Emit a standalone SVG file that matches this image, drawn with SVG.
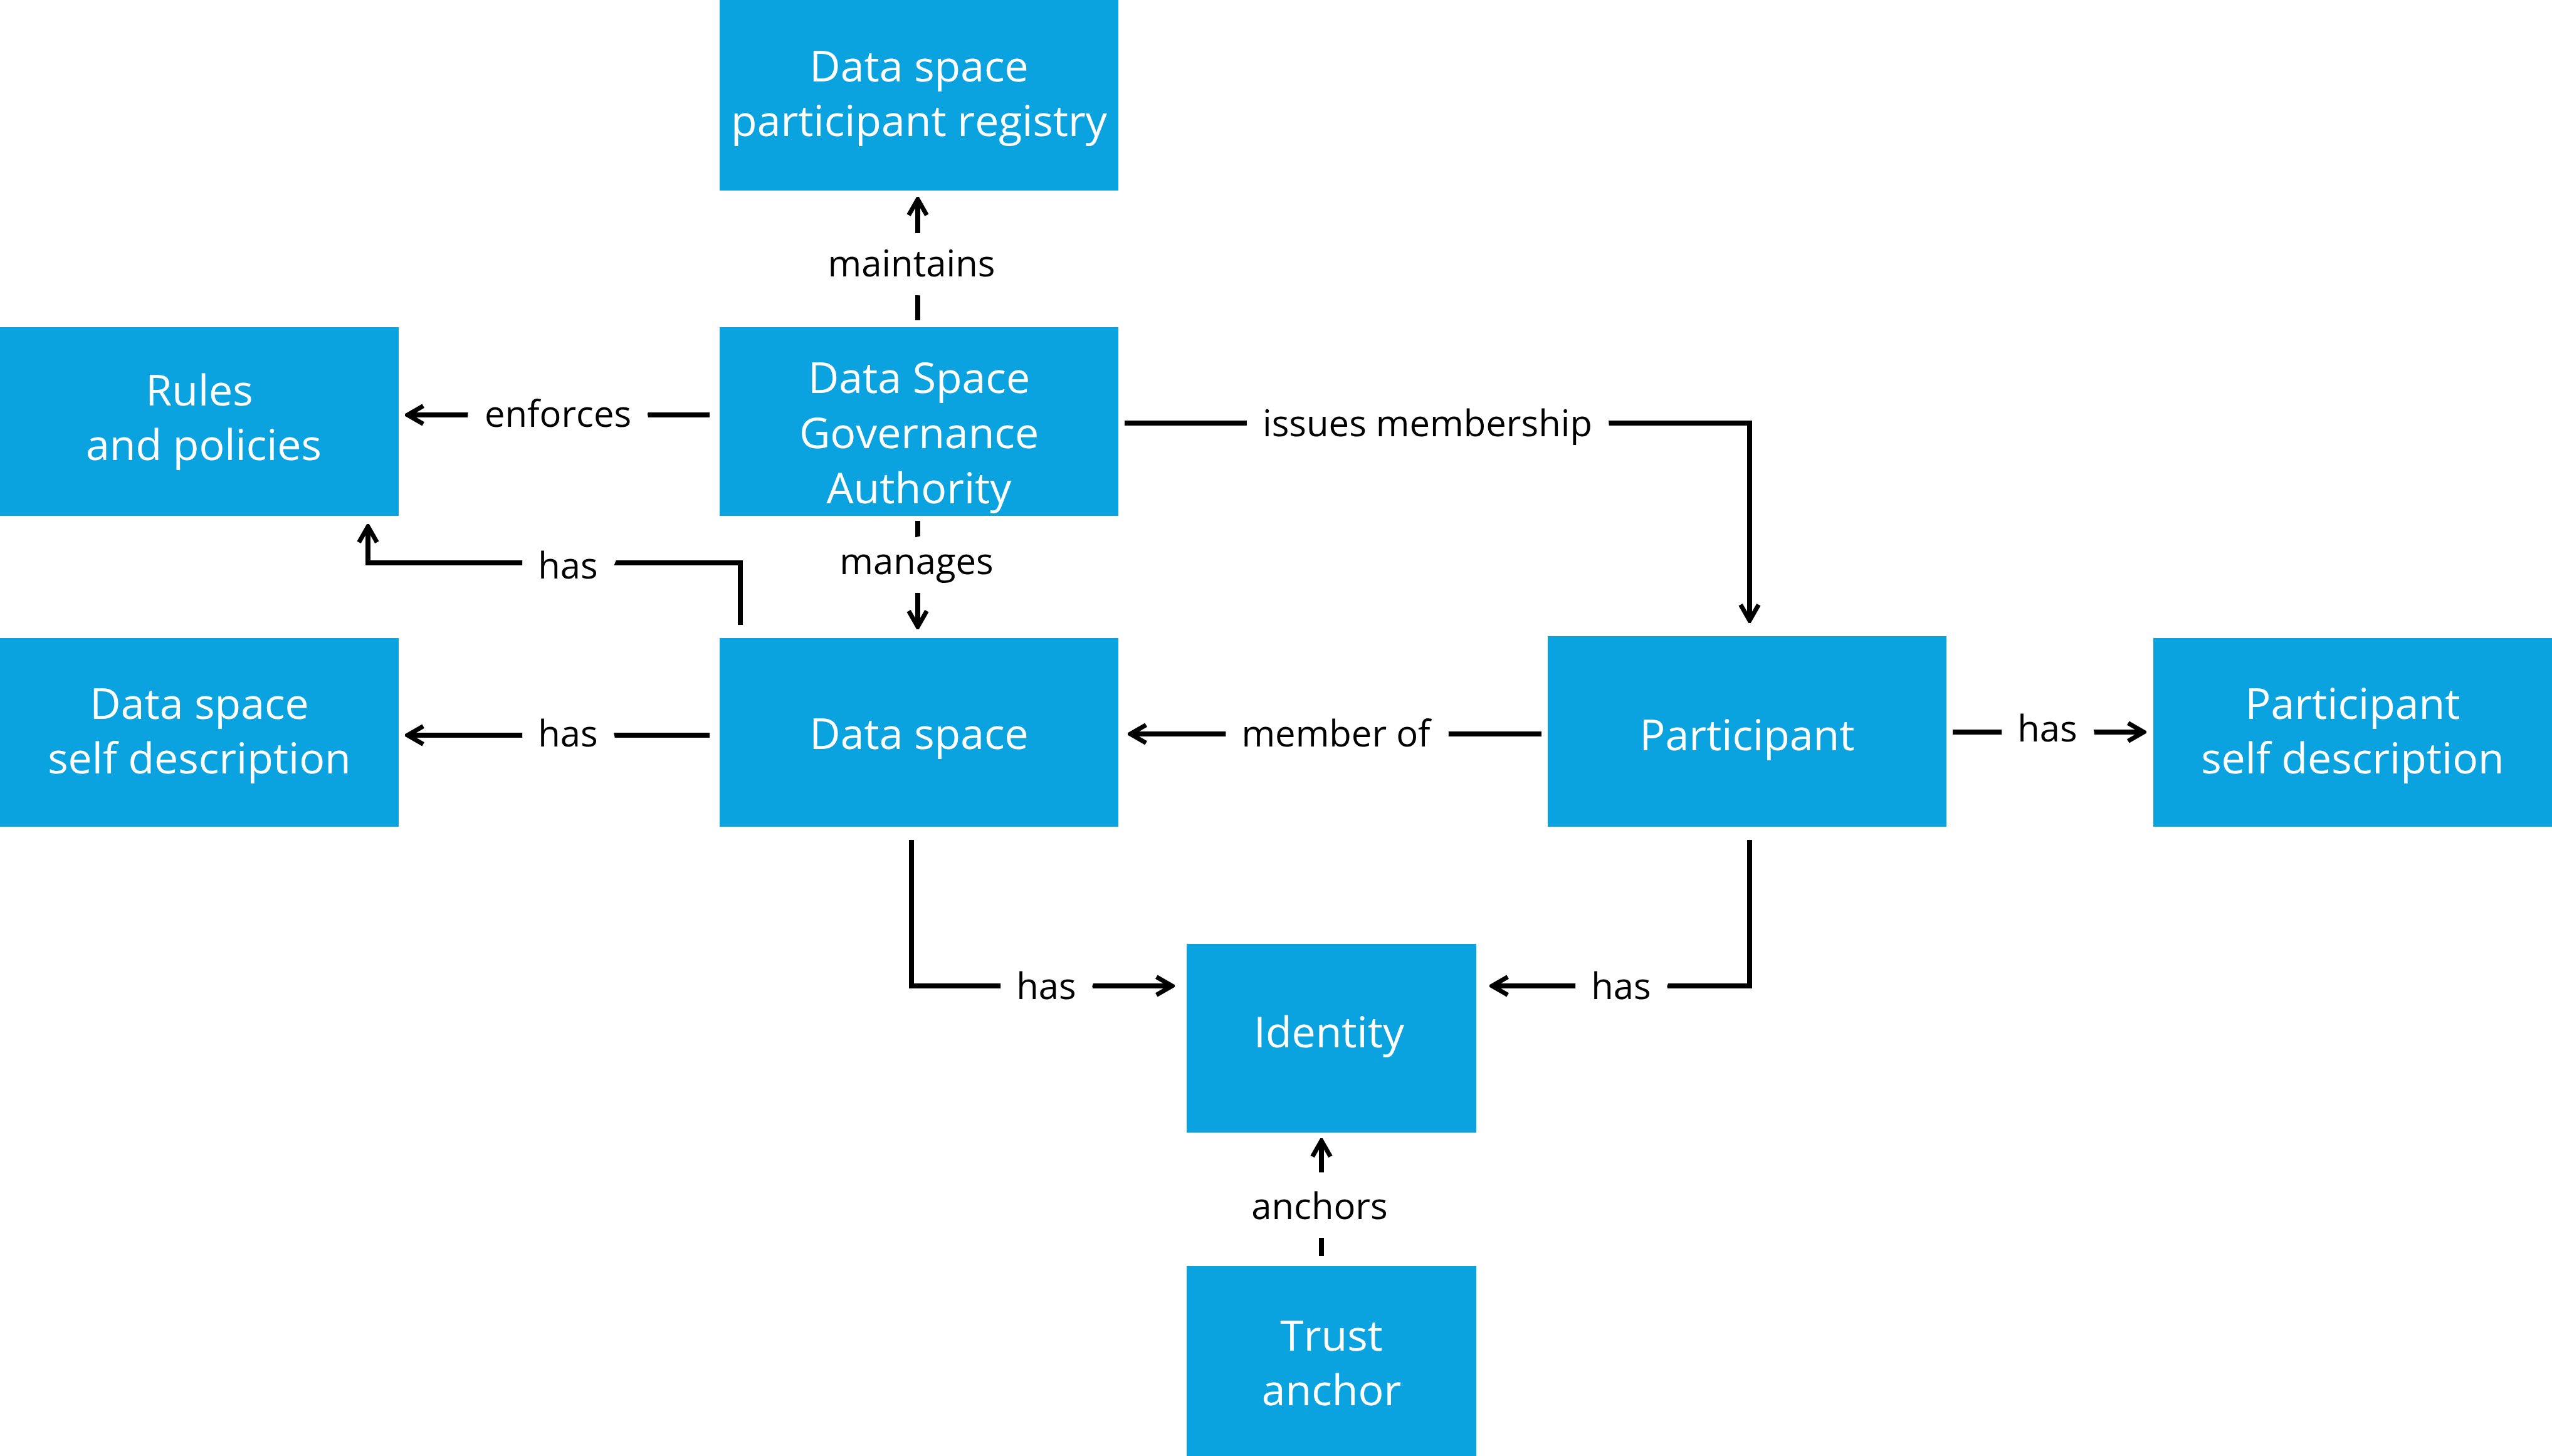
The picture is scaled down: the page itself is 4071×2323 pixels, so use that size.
<svg xmlns="http://www.w3.org/2000/svg" width="4071" height="2323" viewBox="0 0 4071 2323">
<style>
.n{fill:#0ba2e0}
.t{font-family:"Open Sans","Noto Sans",sans-serif;font-size:68px;fill:#fff;text-anchor:middle;dominant-baseline:central}
.c{fill:none;stroke:#000;stroke-width:8;marker-end:url(#a)}
.l{font-family:"Open Sans","Noto Sans",sans-serif;font-size:58px;fill:#000;text-anchor:middle;dominant-baseline:central;stroke:#fff;stroke-width:60px;paint-order:stroke;stroke-linejoin:miter}
</style>
<defs><marker id="a" viewBox="0 0 10 10" refX="9" refY="5" orient="auto" markerUnits="userSpaceOnUse" markerWidth="36" markerHeight="36"><path d="M2,1 L9,5 L2,9" fill="none" stroke="#000" stroke-width="2"/></marker></defs>
<rect width="4071" height="2323" fill="#fff"/>
<g id="connectors">
<path class="c" d="M1464,511 V318"/><text class="l" x="1454" y="418">maintains</text>
<path class="c" d="M1132,662 H650"/><text class="l" x="890" y="658">enforces</text>
<path class="c" d="M1794,675 H2791 V990"/><text class="l" x="2277" y="673">issues membership</text>
<path class="c" d="M1464,831 V1000"/><text class="l" x="1462" y="893">manages</text>
<path class="c" d="M1181,997 V898 H587 V840"/><text class="l" x="906" y="900">has</text>
<path class="c" d="M1132,1173 H650"/><text class="l" x="906" y="1168">has</text>
<path class="c" d="M2459,1171 H1803"/><text class="l" x="2131" y="1168">member of</text>
<path class="c" d="M3115,1168 H3420"/><text class="l" x="3266" y="1160">has</text>
<path class="c" d="M1454,1340 V1573 H1870"/><text class="l" x="1669" y="1571">has</text>
<path class="c" d="M2791,1340 V1573 H2380"/><text class="l" x="2586" y="1571">has</text>
<path class="c" d="M2108,2004 V1820"/><text class="l" x="2105" y="1922">anchors</text>
</g>
<g id="registry"><rect class="n" x="1148" y="0" width="636" height="304"/><text class="t"><tspan x="1466" y="103">Data space</tspan><tspan x="1466" y="190">participant registry</tspan></text></g>
<g id="rules"><rect class="n" x="0" y="522" width="636" height="301"/><text class="t"><tspan x="318" y="620">Rules</tspan><tspan x="325" y="707">and policies</tspan></text></g>
<g id="governance"><rect class="n" x="1148" y="522" width="636" height="301"/><text class="t"><tspan x="1466" y="600">Data Space</tspan><tspan x="1466" y="688">Governance</tspan><tspan x="1466" y="776">Authority</tspan></text></g>
<g id="dssd"><rect class="n" x="0" y="1018" width="636" height="301"/><text class="t"><tspan x="318" y="1120">Data space</tspan><tspan x="318" y="1207">self description</tspan></text></g>
<g id="dataspace"><rect class="n" x="1148" y="1018" width="636" height="301"/><text class="t" x="1466" y="1168">Data space</text></g>
<g id="participant"><rect class="n" x="2469" y="1015" width="636" height="304"/><text class="t" x="2787" y="1170">Participant</text></g>
<g id="psd"><rect class="n" x="3435" y="1018" width="636" height="301"/><text class="t"><tspan x="3753" y="1120">Participant</tspan><tspan x="3753" y="1207">self description</tspan></text></g>
<g id="identity"><rect class="n" x="1893" y="1506" width="462" height="301"/><text class="t" x="2120" y="1644">Identity</text></g>
<g id="trust"><rect class="n" x="1893" y="2020" width="462" height="303"/><text class="t"><tspan x="2124" y="2128">Trust</tspan><tspan x="2124" y="2215">anchor</tspan></text></g>
</svg>
